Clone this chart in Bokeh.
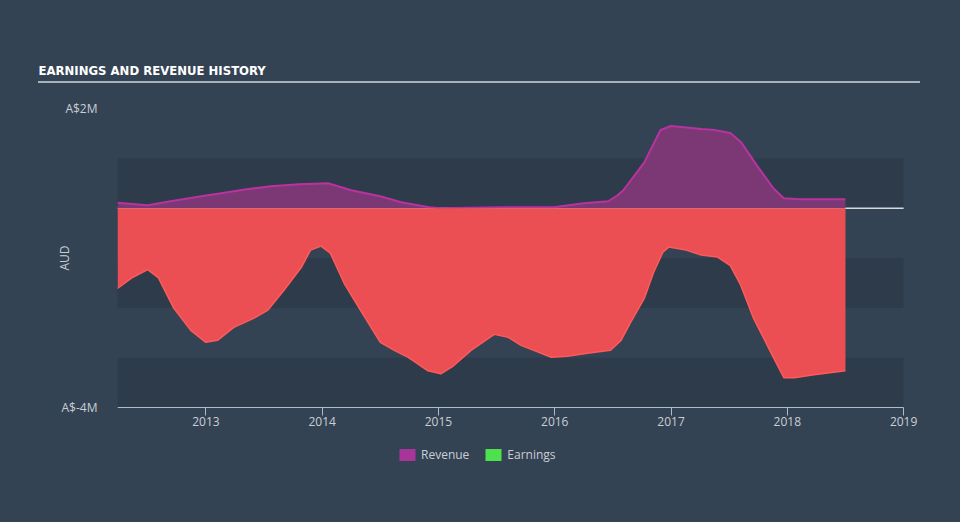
from bokeh.plotting import figure
from bokeh.models import Range1d, FixedTicker, Legend, LegendItem, LinearAxis
from bokeh.embed import file_html
from bokeh.resources import INLINE

TITLE = "EARNINGS AND REVENUE HISTORY"

rev_years = [2012.24, 2012.50, 2012.67, 2012.96, 2013.13, 2013.35, 2013.56, 2013.80,
             2014.05, 2014.25, 2014.50, 2014.68, 2014.92, 2015.02, 2015.54, 2015.99,
             2016.25, 2016.46, 2016.54, 2016.59, 2016.77, 2016.91, 2017.00, 2017.26,
             2017.37, 2017.51, 2017.60, 2017.75, 2017.88, 2017.97, 2018.10, 2018.50]
revenue = [0.11, 0.06, 0.13, 0.24, 0.30, 0.38, 0.44, 0.48,
           0.50, 0.36, 0.24, 0.12, 0.02, 0.00, 0.02, 0.02,
           0.10, 0.14, 0.26, 0.36, 0.92, 1.57, 1.65, 1.59,
           1.57, 1.51, 1.33, 0.82, 0.40, 0.20, 0.18, 0.18]

earn_years = [2012.24, 2012.36, 2012.50, 2012.59, 2012.72, 2012.87, 2013.00, 2013.10,
              2013.24, 2013.41, 2013.53, 2013.67, 2013.82, 2013.90, 2013.99, 2014.07,
              2014.19, 2014.33, 2014.50, 2014.62, 2014.74, 2014.91, 2015.02, 2015.13,
              2015.28, 2015.48, 2015.60, 2015.71, 2015.82, 2015.97, 2016.11, 2016.28,
              2016.48, 2016.57, 2016.65, 2016.77, 2016.85, 2016.93, 2016.98, 2017.13,
              2017.26, 2017.40, 2017.51, 2017.60, 2017.71, 2017.88, 2017.97, 2018.06,
              2018.23, 2018.50]
earnings = [-1.61, -1.40, -1.23, -1.39, -1.99, -2.45, -2.69, -2.65,
            -2.39, -2.21, -2.05, -1.65, -1.19, -0.84, -0.76, -0.90,
            -1.51, -2.05, -2.69, -2.85, -2.99, -3.26, -3.32, -3.16,
            -2.85, -2.53, -2.59, -2.75, -2.85, -2.99, -2.97, -2.91,
            -2.85, -2.65, -2.30, -1.81, -1.29, -0.88, -0.78, -0.84,
            -0.94, -0.98, -1.15, -1.55, -2.21, -2.99, -3.40, -3.40,
            -3.34, -3.26]

x_ticks = [2013, 2014, 2015, 2016, 2017, 2018, 2019]
x_tick_labels = ["2013", "2014", "2015", "2016", "2017", "2018", "2019"]
y_ticks = [-4, 2]
y_tick_labels = ["A$-4M", "A$2M"]
y_title_tick = [-1]
y_title = ["AUD"]
band_bottoms = [0, -2, -4]
band_tops = [1, -1, -3]
x_start, x_axis_end = 2012.24, 2019.0
x_end = 2019.3          # a little room on the right for the last tick label
y_axis_min, y_end = -4, 2
y_start = -5.26         # frame extends below the axis to hold the legend

BG = "#344354"
BAND = "#2e3b4a"
TXT = "#c9ced4"
FONT = "Open Sans"
NAN = float("nan")

p = figure(frame_width=821, frame_height=362,
           x_range=Range1d(x_start, x_end), y_range=Range1d(y_start, y_end),
           toolbar_location=None, output_backend="svg",
           min_border_left=117, min_border_right=22, min_border_top=108, min_border_bottom=52)
p.background_fill_color = BG
p.border_fill_color = BG
p.border_fill_alpha = 0
p.outline_line_color = None
p.grid.visible = False
# page background behind the canvas, with the thin rule under the title
p.styles = {
    "background-color": BG,
    "background-image": "linear-gradient(#a9b1ba, #a9b1ba)",
    "background-size": "882px 2px",
    "background-position": "38px 81px",
    "background-repeat": "no-repeat",
}

p.title.text = TITLE
p.title.align = "left"
p.title.offset = -79
p.title.standoff = 62
p.title.text_font = "DejaVu Sans Condensed"
p.title.text_font_style = "bold"
p.title.text_font_size = "13px"
p.title.text_color = "#ffffff"

p.quad(left=x_start, right=x_axis_end, bottom=band_bottoms, top=band_tops,
       fill_color=BAND, line_color=None)
p.segment(x0=[x_start], x1=[x_axis_end], y0=[0], y1=[0], line_color="#d6dadf", line_width=1.5)

p.varea(x=rev_years, y1=0, y2=revenue, fill_color="#7b3874")
p.line(rev_years, revenue, line_color="#b8339f", line_width=2)
p.varea(x=earn_years, y1=0, y2=earnings, fill_color="#eb4f53")
p.line(earn_years, earnings, line_color="#ff5a5a", line_width=1.5)

xa = p.xaxis[0]
xa.fixed_location = y_axis_min
xa.bounds = (x_start, x_axis_end)
xa.ticker = FixedTicker(ticks=x_ticks)
xa.major_label_overrides = dict(zip(x_ticks, x_tick_labels))
xa.axis_line_color = "#aebccb"
xa.major_tick_line_color = "#aebccb"
xa.major_tick_in = 0
xa.major_tick_out = 8
xa.minor_tick_line_color = None
xa.major_label_standoff = 1
xa.major_label_text_color = TXT
xa.major_label_text_font = FONT
xa.major_label_text_font_size = "12px"

ya = p.yaxis[0]
ya.ticker = FixedTicker(ticks=y_ticks)
ya.major_label_overrides = dict(zip(y_ticks, y_tick_labels))
ya.axis_line_color = None
ya.major_tick_line_color = None
ya.minor_tick_line_color = None
ya.major_label_standoff = 14
ya.major_label_text_color = TXT
ya.major_label_text_font = FONT
ya.major_label_text_font_size = "12px"

# "AUD" axis title, centred on the -4..2 span
yt = LinearAxis(ticker=FixedTicker(ticks=y_title_tick),
                major_label_overrides=dict(zip(y_title_tick, y_title)),
                major_label_orientation="vertical",
                axis_line_color=None, major_tick_line_color=None, minor_tick_line_color=None,
                major_label_standoff=-21, major_label_text_color=TXT,
                major_label_text_font=FONT, major_label_text_font_size="12px")
p.add_layout(yt, "left")

leg_rev = p.quad(left=[NAN], right=[NAN], top=[NAN], bottom=[NAN], fill_color="#a8369a", line_color=None)
leg_earn = p.quad(left=[NAN], right=[NAN], top=[NAN], bottom=[NAN], fill_color="#4fe04f", line_color=None)
legend = Legend(items=[LegendItem(label="Revenue", renderers=[leg_rev]),
                       LegendItem(label="Earnings", renderers=[leg_earn])],
                location=(280, 7), orientation="horizontal",
                border_line_color=None, background_fill_alpha=0,
                label_text_color=TXT, label_text_font=FONT, label_text_font_size="12px",
                glyph_width=20, glyph_height=15, label_height=15, spacing=14, label_standoff=4,
                padding=0, margin=0)
p.add_layout(legend)

open("out.html", "w").write(file_html(p, INLINE))
